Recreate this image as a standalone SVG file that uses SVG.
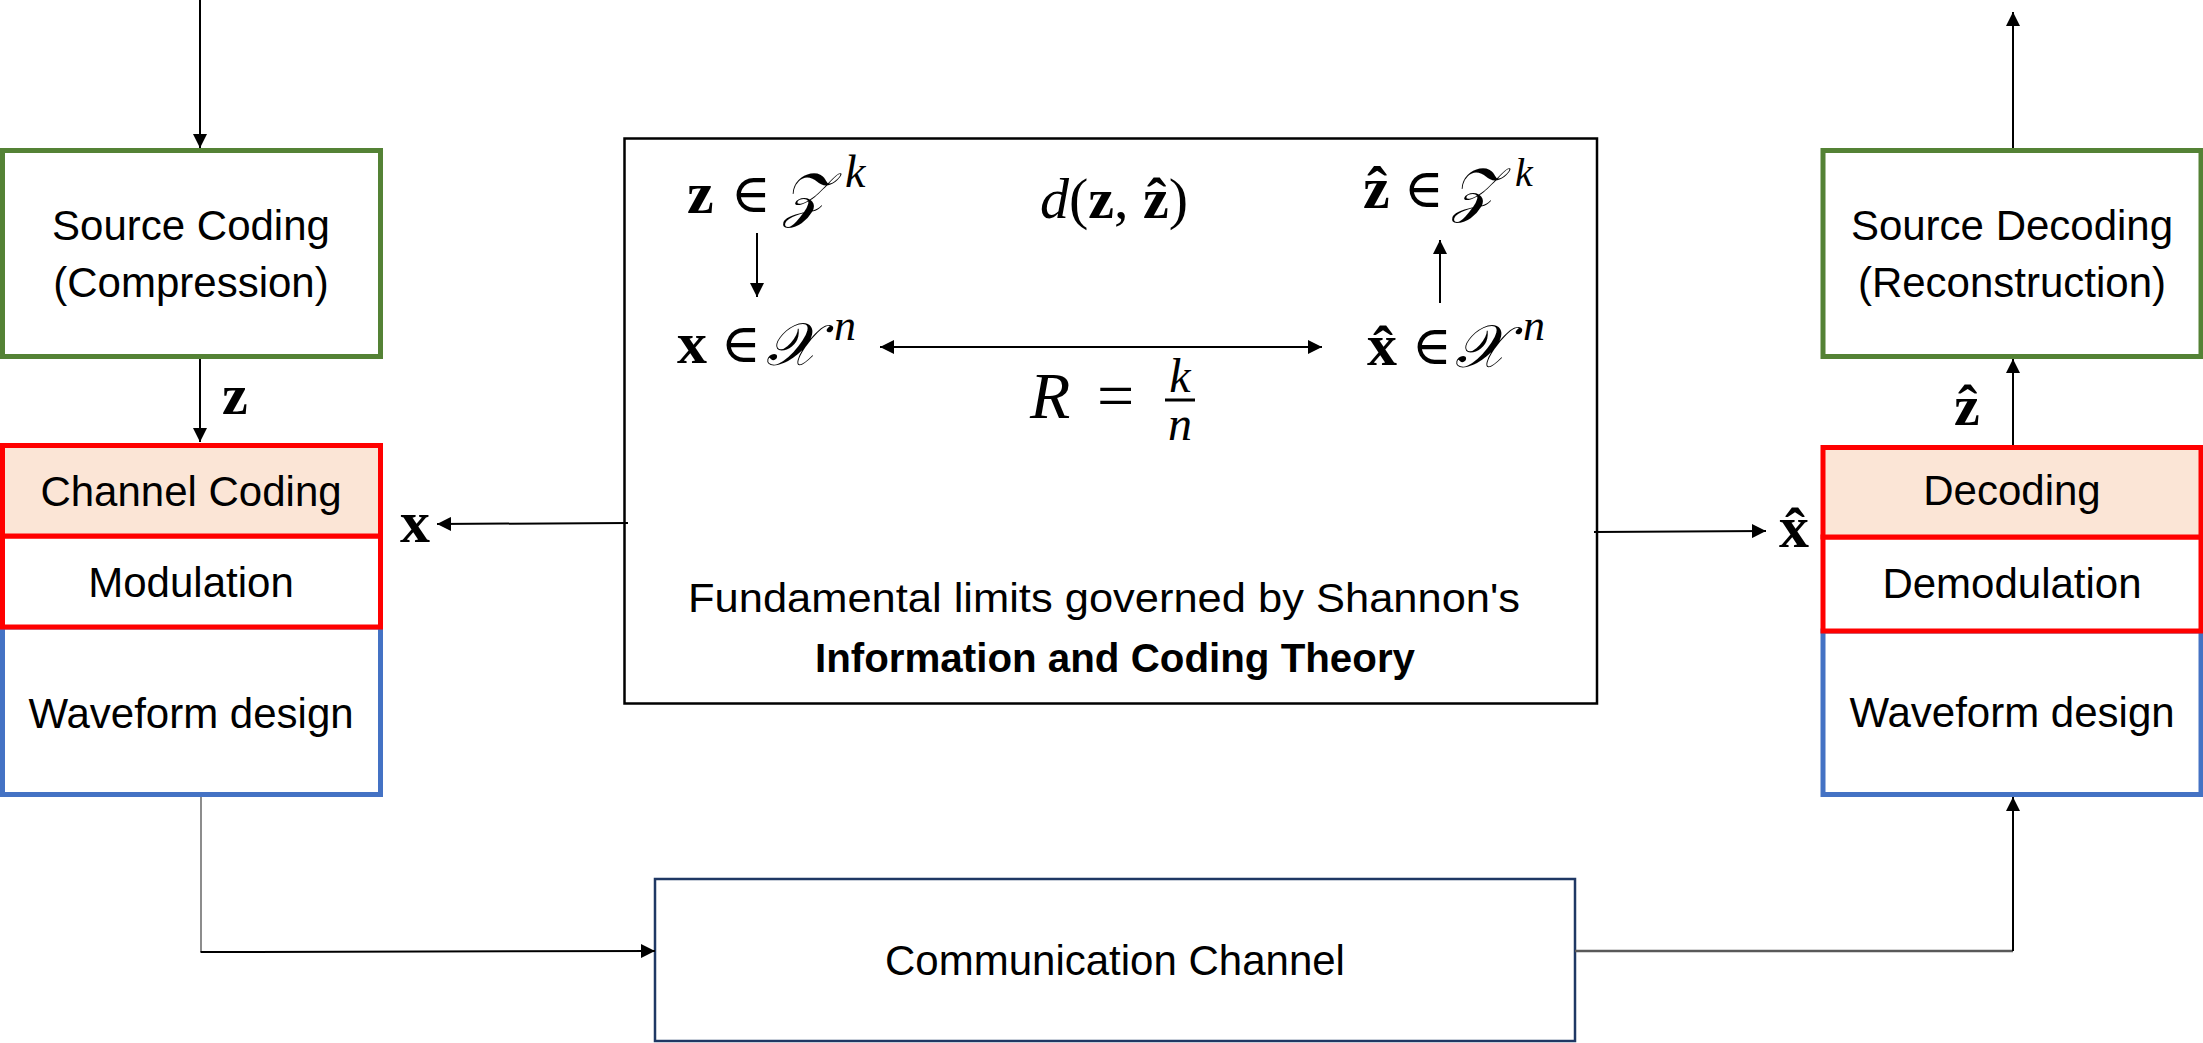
<svg xmlns="http://www.w3.org/2000/svg" width="2203" height="1043" viewBox="0 0 2203 1043">
<style>
.lbl{font-family:"Liberation Sans","Arial",sans-serif;font-size:42px;fill:#000;text-anchor:middle}
.m{font-family:"Liberation Serif","DejaVu Serif",serif;fill:#000}
.b{font-weight:bold}
.i{font-style:italic}
.sc{font-size:60px}
.el{font-size:54px}
.green{fill:#fff;stroke:#548235;stroke-width:5}
.red{fill:#fff;stroke:#FF0000;stroke-width:5}
.redf{fill:#FBE5D6;stroke:#FF0000;stroke-width:5}
.blue{fill:#fff;stroke:#4472C4;stroke-width:5}
.conn{fill:none;stroke:#000;stroke-width:2}
</style>
<defs>
<marker id="ah" viewBox="0 0 14 14" refX="14" refY="7" markerWidth="14" markerHeight="14" markerUnits="userSpaceOnUse" orient="auto-start-reverse">
<path d="M0,0 L14,7 L0,14 z" fill="#000"/>
</marker>
</defs>

<g id="source-coding">
<rect class="green" x="2.5" y="150.5" width="378" height="206"/>
<text class="lbl" x="191" y="240">Source Coding</text>
<text class="lbl" x="191" y="297">(Compression)</text>
</g>

<g id="waveform-tx">
<rect class="blue" x="2.5" y="627" width="378" height="167.5"/>
<text class="lbl" x="191" y="728">Waveform design</text>
</g>
<g id="modulation">
<rect class="red" x="2.5" y="536" width="378" height="91"/>
<text class="lbl" x="191" y="597">Modulation</text>
</g>
<g id="channel-coding">
<rect class="redf" x="2.5" y="445.5" width="378" height="90.5"/>
<text class="lbl" x="191" y="506">Channel Coding</text>
</g>

<g id="source-decoding">
<rect class="green" x="1823" y="150.5" width="378" height="206"/>
<text class="lbl" x="2012" y="240">Source Decoding</text>
<text class="lbl" x="2012" y="297">(Reconstruction)</text>
</g>
<g id="waveform-rx">
<rect class="blue" x="1823" y="631" width="378" height="163.5"/>
<text class="lbl" x="2012" y="727">Waveform design</text>
</g>
<g id="demodulation">
<rect class="red" x="1823" y="537" width="378" height="94"/>
<text class="lbl" x="2012" y="598">Demodulation</text>
</g>
<g id="decoding">
<rect class="redf" x="1823" y="447.5" width="378" height="89.5"/>
<text class="lbl" x="2012" y="505">Decoding</text>
</g>

<g id="communication-channel">
<rect x="655" y="879" width="920" height="162" fill="#fff" stroke="#1F3864" stroke-width="2.5"/>
<text class="lbl" x="1115" y="975">Communication Channel</text>
</g>

<g id="shannon-box">
<rect x="624.5" y="138.5" width="972.5" height="565" fill="#fff" stroke="#000" stroke-width="2.5"/>
<text class="m" font-size="60"><tspan class="b" x="687" y="213">z</tspan><tspan class="el" x="731" y="212">∈</tspan><tspan class="i sc" x="783" y="215">𝒵</tspan><tspan class="i" x="845" y="187" font-size="46">k</tspan></text>
<text class="m" font-size="58" x="1040" y="218"><tspan class="i">d</tspan>(<tspan class="b">z</tspan>, <tspan class="b">ẑ</tspan>)</text>
<text class="m" font-size="60"><tspan class="b" x="1363" y="208">ẑ</tspan><tspan class="el" x="1404" y="207">∈</tspan><tspan class="i sc" x="1452" y="210">𝒵</tspan><tspan class="i" x="1515" y="186" font-size="40">k</tspan></text>
<text class="m" font-size="60"><tspan class="b" x="677" y="363">x</tspan><tspan class="el" x="721" y="362">∈</tspan><tspan class="i sc" x="766" y="365">𝒳</tspan><tspan class="i" x="834" y="340" font-size="44">n</tspan></text>
<text class="m" font-size="60"><tspan class="b" x="1367" y="365">x̂</tspan><tspan class="el" x="1412" y="364">∈</tspan><tspan class="i sc" x="1455" y="367">𝒳</tspan><tspan class="i" x="1523" y="340" font-size="44">n</tspan></text>
<text class="m" font-size="66"><tspan class="i" x="1030" y="418">R</tspan><tspan x="1097" y="418">=</tspan></text>
<text class="m i" font-size="48" x="1180" y="392" text-anchor="middle">k</text>
<line x1="1165" y1="400" x2="1195" y2="400" stroke="#000" stroke-width="3"/>
<text class="m i" font-size="48" x="1180" y="440" text-anchor="middle">n</text>
<text font-family="Liberation Sans, Arial, sans-serif" font-size="40" x="688" y="612" textLength="832" lengthAdjust="spacingAndGlyphs">Fundamental limits governed by Shannon's</text>
<text font-family="Liberation Sans, Arial, sans-serif" font-size="40" font-weight="bold" x="815" y="672" textLength="600" lengthAdjust="spacingAndGlyphs">Information and Coding Theory</text>
</g>

<g id="labels">
<text class="m b" font-size="58" x="222" y="414">z</text>
<text class="m b" font-size="60" x="400" y="542">x</text>
<text class="m b" font-size="58" x="1954" y="425">ẑ</text>
<text class="m b" font-size="60" x="1779" y="547">x̂</text>
</g>

<g id="connectors">
<line class="conn" x1="200" y1="0" x2="200" y2="148" marker-end="url(#ah)"/>
<line class="conn" x1="200" y1="359" x2="200" y2="442" marker-end="url(#ah)"/>
<line class="conn" x1="628" y1="523" x2="437" y2="524" marker-end="url(#ah)"/>
<line class="conn" x1="1594" y1="532" x2="1766" y2="531" marker-end="url(#ah)"/>
<line class="conn" x1="757" y1="233" x2="757" y2="297" marker-end="url(#ah)"/>
<line class="conn" x1="1440" y1="303" x2="1440" y2="240" marker-end="url(#ah)"/>
<line class="conn" x1="880" y1="347" x2="1322" y2="347" marker-start="url(#ah)" marker-end="url(#ah)"/>
<line x1="201" y1="797" x2="201" y2="952" stroke="#404040" stroke-width="1.2"/>
<line class="conn" x1="200.5" y1="952" x2="655" y2="951" stroke-width="2.5" marker-end="url(#ah)"/>
<line x1="1575" y1="951" x2="2013" y2="951" stroke="#595959" stroke-width="2.5"/>
<line class="conn" x1="2013" y1="951" x2="2013" y2="797" stroke-width="1.5" marker-end="url(#ah)"/>
<line class="conn" x1="2013" y1="445" x2="2013" y2="359" marker-end="url(#ah)"/>
<line class="conn" x1="2013" y1="148" x2="2013" y2="12" marker-end="url(#ah)"/>
</g>
</svg>
